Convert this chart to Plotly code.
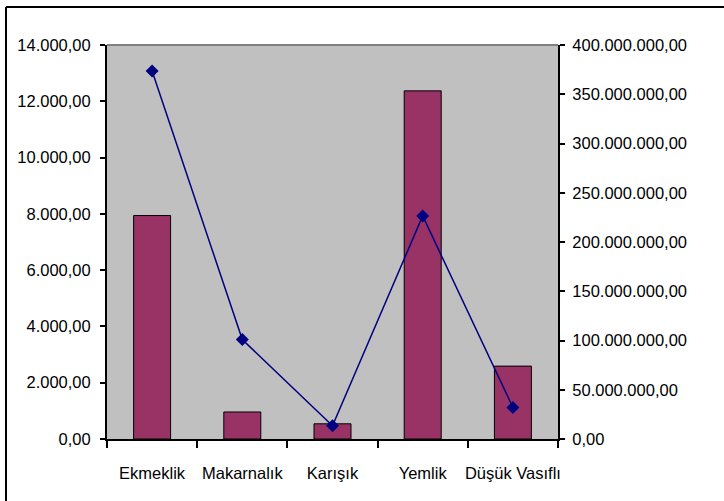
import plotly.graph_objects as go

categories = ["Ekmeklik", "Makarnalık", "Karışık", "Yemlik", "Düşük Vasıflı"]
bar_values = [7940, 960, 540, 12370, 2590]                     # left axis
line_values = [373.5e6, 101e6, 13.5e6, 226.5e6, 32e6]          # right axis
left_ticks = [0, 2000, 4000, 6000, 8000, 10000, 12000, 14000]
right_ticks = [0, 50e6, 100e6, 150e6, 200e6, 250e6, 300e6, 350e6, 400e6]

W, H = 724, 501
L, R, T, B = 107, 558, 45, 439  # plot area in pixels

def px(x):
    return (x - L) / (R - L)

def py(y):
    return (B - y) / (B - T)

FONT = dict(family="Liberation Sans, Arial, sans-serif", size=16.5, color="black")

fig = go.Figure()
fig.add_trace(go.Bar(
    x=categories, y=bar_values, yaxis="y",
    marker=dict(color="#993366", line=dict(color="black", width=1)),
    width=0.41, showlegend=False,
))
fig.add_trace(go.Scatter(
    x=categories, y=line_values, yaxis="y2", mode="lines+markers",
    line=dict(color="#000080", width=1.5),
    marker=dict(symbol="diamond", size=10, color="#000080"),
    showlegend=False,
))

fig.update_layout(
    width=W, height=H,
    margin=dict(l=L, r=W - R, t=T, b=H - B, pad=0, autoexpand=False),
    paper_bgcolor="white", plot_bgcolor="#C0C0C0",
    separators=",.",
    font=FONT,
    xaxis=dict(
        type="category", range=[-0.5, 4.5], automargin=False, tickangle=0,
        showline=True, linecolor="black", linewidth=2,
        ticks="outside", tickson="boundaries", ticklen=7, tickwidth=1.5, tickcolor="black",
        showgrid=False, zeroline=False, ticklabelstandoff=18,
        tickfont=FONT,
    ),
    yaxis=dict(
        range=[0, 14000], tickvals=left_ticks, tickformat=",.2f", automargin=False,
        showline=True, linecolor="black", linewidth=2,
        ticks="outside", ticklen=5, tickwidth=1.5, tickcolor="black",
        showgrid=False, zeroline=False, ticklabelstandoff=6,
        tickfont=FONT,
    ),
    yaxis2=dict(
        range=[0, 400e6], tickvals=right_ticks, tickformat=",.2f", automargin=False,
        overlaying="y", side="right",
        showline=True, linecolor="black", linewidth=2,
        ticks="outside", ticklen=5, tickwidth=1.5, tickcolor="black",
        showgrid=False, zeroline=False, ticklabelstandoff=4,
        tickfont=FONT,
    ),
    shapes=[
        # gray top edge of plot area
        dict(type="line", xref="paper", yref="paper", x0=0, x1=1, y0=1, y1=1,
             line=dict(color="#808080", width=2), layer="above"),
        # outer chart border (left and top visible)
        dict(type="line", xref="paper", yref="paper", x0=px(6), x1=px(6), y0=py(7), y1=py(H + 5),
             line=dict(color="black", width=2)),
        dict(type="line", xref="paper", yref="paper", x0=px(6), x1=px(W + 5), y0=py(7), y1=py(7),
             line=dict(color="black", width=2)),
    ],
)

fig.write_html("out.html", config={"displayModeBar": False},
               post_script="document.body.style.margin='0';")
